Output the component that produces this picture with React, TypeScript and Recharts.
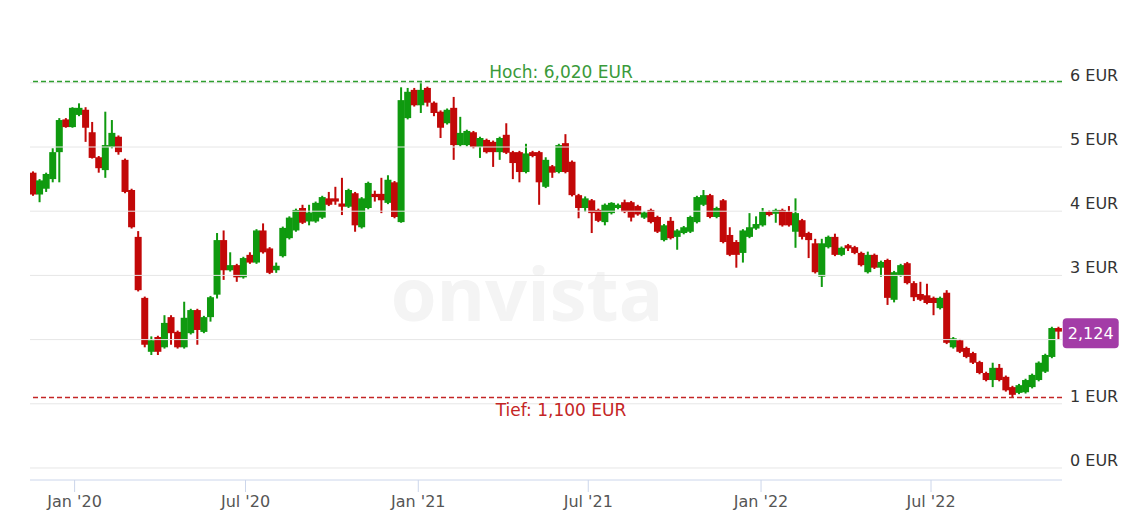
import React from 'react';
import { ComposedChart, Bar, XAxis, YAxis, ReferenceLine, ReferenceDot, Label } from 'recharts';

// weekly candles, first week starting 2019-11-18
const startDate = '2019-11-18';

const opens = [
  4.60, 4.26, 4.35, 4.50, 4.92, 5.43, 5.31, 5.50, 5.58, 5.23, 4.84, 4.64, 5.00, 5.16, 4.80, 4.33, 3.60, 2.65, 1.81, 2.04,
  1.88, 2.35, 2.12, 1.88, 2.10, 2.46, 2.12, 2.35, 2.70, 3.55, 3.08, 3.16, 2.97, 3.32, 3.20, 3.70, 3.42, 3.08, 3.30, 3.58,
  3.70, 4.05, 3.84, 3.84, 3.90, 4.20, 4.20, 4.12, 4.07, 4.28, 3.75, 4.05, 4.27, 4.27, 4.13, 4.45, 3.83, 5.45, 5.89, 5.65,
  5.92, 5.69, 5.55, 5.37, 5.61, 5.03, 5.03, 5.23, 5.00, 5.11, 5.08, 4.92, 5.19, 4.92, 4.92, 4.61, 4.92, 4.92, 4.38, 4.70,
  4.61, 5.06, 4.77, 4.25, 4.05, 4.17, 4.02, 3.83, 3.97, 4.05, 4.14, 4.14, 4.08, 3.90, 4.02, 3.91, 3.55, 3.85, 3.60, 3.66,
  3.68, 3.83, 4.10, 4.25, 3.91, 4.17, 3.63, 3.52, 3.35, 3.60, 3.73, 3.78, 3.99, 3.96, 4.02, 3.99, 3.68, 3.86, 3.66, 3.50,
  2.98, 3.44, 3.60, 3.32, 3.47, 3.44, 3.35, 3.05, 3.32, 3.12, 3.24, 2.62, 3.00, 3.19, 2.88, 2.71, 2.69, 2.65, 2.49, 2.73,
  1.88, 1.99, 1.87, 1.79, 1.65, 1.48, 1.37, 1.56, 1.42, 1.26, 1.17, 1.18, 1.26, 1.37, 1.50, 1.73, 2.18,
];
const highs = [
  4.62, 4.50, 4.60, 4.98, 5.45, 5.45, 5.62, 5.68, 5.62, 5.39, 4.86, 5.55, 5.42, 5.18, 4.82, 4.35, 3.69, 2.67, 2.05, 2.06,
  2.38, 2.38, 2.14, 2.59, 2.48, 2.48, 2.37, 2.68, 3.66, 3.70, 3.36, 3.18, 3.29, 3.36, 3.72, 3.81, 3.44, 3.20, 3.76, 3.92,
  4.04, 4.10, 4.10, 4.15, 4.24, 4.30, 4.38, 4.52, 4.35, 4.30, 4.22, 4.46, 4.32, 4.52, 4.56, 4.47, 5.93, 5.92, 5.92, 6.02,
  5.94, 5.71, 5.57, 5.60, 5.78, 5.47, 5.27, 5.25, 5.16, 5.13, 5.10, 5.16, 5.37, 4.94, 4.94, 5.05, 4.94, 4.94, 4.84, 4.72,
  5.05, 5.20, 4.79, 4.27, 4.23, 4.19, 4.04, 4.12, 4.14, 4.12, 4.18, 4.16, 4.10, 4.00, 4.04, 3.93, 3.80, 3.91, 3.72, 3.77,
  3.93, 4.24, 4.33, 4.27, 4.07, 4.19, 3.75, 3.55, 3.72, 3.97, 3.92, 4.05, 4.01, 4.04, 4.04, 4.08, 4.20, 3.88, 3.68, 3.57,
  3.57, 3.62, 3.65, 3.45, 3.49, 3.46, 3.37, 3.37, 3.34, 3.23, 3.26, 3.07, 3.18, 3.21, 2.91, 2.90, 2.87, 2.67, 2.67, 2.77,
  2.04, 2.01, 1.89, 1.81, 1.67, 1.50, 1.64, 1.62, 1.44, 1.28, 1.31, 1.39, 1.47, 1.66, 1.78, 2.20, 2.20,
];
const lows = [
  4.24, 4.14, 4.30, 4.45, 4.45, 5.30, 5.30, 5.48, 5.08, 4.82, 4.60, 4.52, 4.98, 4.88, 4.28, 3.73, 2.75, 1.88, 1.76, 1.76,
  1.86, 1.92, 1.86, 1.86, 2.08, 1.92, 2.10, 2.28, 2.64, 2.93, 3.06, 2.90, 2.95, 3.18, 3.18, 3.34, 3.02, 3.04, 3.28, 3.56,
  3.68, 3.80, 3.78, 3.82, 3.88, 4.08, 4.10, 3.94, 4.05, 3.68, 3.73, 4.03, 4.15, 3.97, 4.11, 3.89, 3.82, 5.43, 5.63, 5.53,
  5.63, 5.48, 5.14, 5.35, 4.80, 5.01, 5.01, 4.98, 4.83, 4.90, 4.69, 4.80, 4.89, 4.50, 4.45, 4.59, 4.84, 4.10, 4.36, 4.52,
  4.59, 4.59, 4.23, 3.89, 3.99, 3.66, 3.83, 3.78, 3.95, 4.03, 3.97, 3.84, 3.93, 3.88, 3.81, 3.66, 3.53, 3.56, 3.40, 3.64,
  3.66, 3.81, 4.08, 3.89, 3.89, 3.50, 3.30, 3.12, 3.20, 3.58, 3.71, 3.76, 3.92, 3.82, 3.76, 3.76, 3.43, 3.56, 3.27, 3.03,
  2.82, 3.42, 3.30, 3.30, 3.38, 3.33, 3.14, 3.03, 3.10, 2.98, 2.54, 2.58, 2.98, 2.86, 2.60, 2.60, 2.55, 2.38, 2.47, 1.93,
  1.86, 1.79, 1.71, 1.62, 1.46, 1.35, 1.26, 1.35, 1.19, 1.10, 1.15, 1.16, 1.24, 1.35, 1.48, 1.71, 2.00,
];
const closes = [
  4.26, 4.48, 4.58, 4.92, 5.42, 5.31, 5.61, 5.61, 5.30, 4.83, 4.67, 5.03, 5.22, 4.92, 4.30, 3.75, 2.77, 1.92, 1.99, 1.81,
  2.26, 2.10, 1.88, 2.34, 2.46, 2.15, 2.35, 2.66, 3.55, 3.08, 3.16, 2.97, 3.27, 3.20, 3.70, 3.36, 3.04, 3.15, 3.74, 3.90,
  4.02, 3.82, 3.98, 4.13, 4.22, 4.10, 4.15, 4.07, 4.33, 3.78, 4.20, 4.44, 4.22, 4.17, 4.49, 3.91, 5.73, 5.86, 5.65, 5.89,
  5.69, 5.53, 5.30, 5.58, 5.03, 5.22, 5.25, 5.00, 5.14, 4.92, 4.92, 5.14, 4.91, 4.75, 4.61, 4.90, 4.86, 4.45, 4.80, 4.60,
  5.03, 4.61, 4.25, 4.05, 4.20, 3.97, 3.85, 4.10, 4.13, 4.10, 3.99, 3.90, 3.95, 3.98, 3.83, 3.68, 3.78, 3.58, 3.70, 3.75,
  3.91, 4.22, 4.25, 3.91, 4.05, 3.52, 3.32, 3.32, 3.70, 3.75, 3.80, 3.99, 3.94, 4.02, 3.78, 3.78, 3.97, 3.60, 3.55, 3.05,
  3.50, 3.60, 3.32, 3.43, 3.42, 3.35, 3.16, 3.32, 3.12, 3.21, 2.65, 3.05, 3.16, 2.88, 2.66, 2.62, 2.57, 2.57, 2.65, 1.95,
  2.02, 1.81, 1.73, 1.64, 1.48, 1.37, 1.56, 1.37, 1.21, 1.14, 1.29, 1.37, 1.45, 1.64, 1.76, 2.18, 2.124,
];

const tickDates = ['2020-01-01', '2020-07-01', '2021-01-01', '2021-07-01', '2022-01-01', '2022-07-01'];
const tickLabels = ["Jan '20", "Jul '20", "Jan '21", "Jul '21", "Jan '22", "Jul '22"];
const yTicks = [0, 1, 2, 3, 4, 5, 6];

const GREEN = '#0f9a0f';
const RED = '#c20808';
const FONT = '"DejaVu Sans", sans-serif';
const BODY_W = 7;

const WEEK = 7 * 24 * 3600 * 1000;
const t0 = Date.parse(startDate);

const data = opens.map((o, i) => ({
  i,
  open: o,
  high: highs[i],
  low: lows[i],
  close: closes[i],
}));

const xTicks = tickDates.map((d) => (Date.parse(d) - t0) / WEEK);
const hoch = Math.max(...highs);
const tief = Math.min(...lows);
const last = closes[closes.length - 1];

const fmt = (v: number, digits: number) => v.toFixed(digits).replace('.', ',');

const Candle = (props: any) => {
  const { x, y, width, height, payload } = props;
  const { open, high, low, close } = payload;
  const color = close >= open ? GREEN : RED;
  const k = high > low ? height / (high - low) : 0;
  const py = (v: number) => y + (high - v) * k;
  const top = py(Math.max(open, close));
  const bot = py(Math.min(open, close));
  const cx = x + width / 2;
  return (
    <g>
      <rect x={cx - 1} y={y} width={2} height={height} fill={color} />
      <rect x={cx - BODY_W / 2} y={top} width={BODY_W} height={Math.max(2, bot - top)} fill={color} />
    </g>
  );
};

const XTick = (props: any) => {
  const { x, y, payload } = props;
  const idx = xTicks.indexOf(payload.value);
  return (
    <text x={x} y={y + 15} textAnchor="middle" fill="#555" fontSize={16} fontFamily={FONT}>
      {tickLabels[idx]}
    </text>
  );
};

const YTick = (props: any) => {
  const { x, y, payload } = props;
  // the 2 EUR label sits under the last-price badge
  if (payload.value === 2) return <g />;
  return (
    <text x={x} y={y - 2} textAnchor="start" fill="#333" fontSize={16} fontFamily={FONT}>
      {`${payload.value} EUR`}
    </text>
  );
};

const Badge = (props: any) => {
  const { cx, cy } = props;
  return (
    <g>
      <rect x={cx + 4} y={cy - 13.5} width={56} height={30} rx={4} fill="#a33ca7" />
      <text x={cx + 32} y={cy + 7.5} textAnchor="middle" fill="#fff" fontSize={16} fontFamily={FONT}>
        {fmt(last, 3)}
      </text>
    </g>
  );
};

export default function App() {
  return (
    <div style={{ position: 'relative', width: 1145, height: 522, background: '#fff', overflow: 'hidden' }}>
      <style>{'body{margin:0}'}</style>
      <div
        style={{
          position: 'absolute',
          left: 382,
          top: 242,
          width: 290,
          textAlign: 'center',
          fontFamily: '"Open Sans", sans-serif',
          fontWeight: 700,
          fontSize: 74,
          color: '#f4f4f4',
        }}
      >
        onvista
      </div>
      <ComposedChart
        width={1145}
        height={522}
        data={data}
        margin={{ top: 50, right: 0, bottom: 0, left: 30 }}
        style={{ position: 'absolute', left: 0, top: 0 }}
      >
        {yTicks.map((v) => (
          <ReferenceLine key={`g${v}`} y={v} stroke="#e6e6e6" strokeWidth={1} />
        ))}
        <XAxis
          dataKey="i"
          type="number"
          domain={[-0.5, data.length - 0.5]}
          ticks={xTicks}
          tick={<XTick />}
          height={42}
          tickSize={12}
          tickMargin={0}
          axisLine={{ stroke: '#ccd6eb' }}
          tickLine={{ stroke: '#ccd6eb' }}
          allowDataOverflow
        />
        <YAxis
          orientation="right"
          width={83}
          domain={[-0.187, 6.511]}
          ticks={yTicks}
          tick={<YTick />}
          tickSize={0}
          tickMargin={8}
          axisLine={false}
          tickLine={false}
          allowDataOverflow
        />
        <ReferenceLine y={hoch} stroke="#2f9f2f" strokeWidth={1.5} strokeDasharray="5 3">
          <Label
            value={`Hoch: ${fmt(hoch, 3)} EUR`}
            position="top"
            offset={4}
            dx={15}
            fill="#3a9a3a"
            fontSize={17}
            fontFamily={FONT}
          />
        </ReferenceLine>
        <ReferenceLine y={tief} stroke="#c42525" strokeWidth={1.5} strokeDasharray="5 3">
          <Label
            value={`Tief: ${fmt(tief, 3)} EUR`}
            position="bottom"
            offset={7}
            dx={15}
            fill="#c42525"
            fontSize={17}
            fontFamily={FONT}
          />
        </ReferenceLine>
        <Bar
          dataKey={(d: any) => [d.low, d.high]}
          barSize={6}
          shape={<Candle />}
          isAnimationActive={false}
        />
        <ReferenceDot x={data.length - 1} y={last} r={0} shape={<Badge />} ifOverflow="visible" />
      </ComposedChart>
    </div>
  );
}
